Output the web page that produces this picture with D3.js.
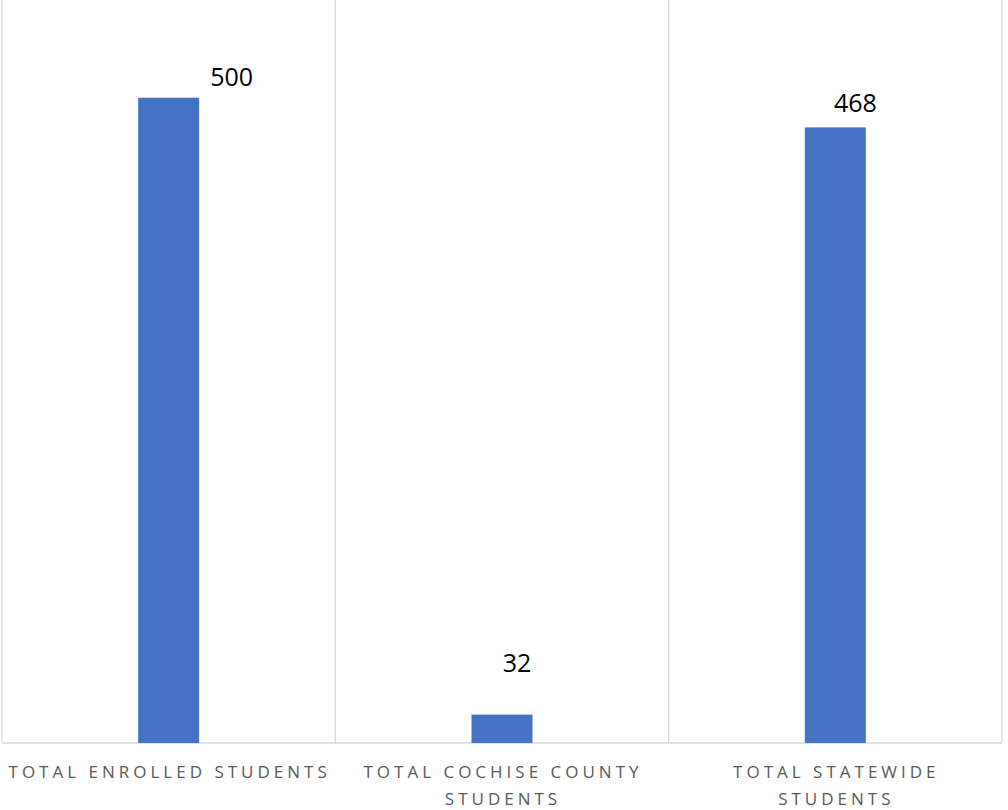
<!DOCTYPE html>
<html>
<head>
<meta charset="utf-8">
<script src="https://cdn.jsdelivr.net/npm/d3@7"></script>
<style>
  html, body { margin: 0; padding: 0; background: #fff; }
  svg { display: block; }
</style>
</head>
<body>
<svg id="chart" width="1008" height="810"></svg>
<script>
// ---- data ----
const categories = ["TOTAL ENROLLED STUDENTS", "TOTAL COCHISE COUNTY STUDENTS", "TOTAL STATEWIDE STUDENTS"];
// bar heights as drawn in the picture (axis units)
const barValues = [500, 22, 477];
// data label texts shown above the bars
const labelValues = ["500", "32", "468"];
// y axis domain
const yDomain = [0, 500];

// ---- layout (not data) ----
const W = 1008, H = 810;
const plot = { left: 2, right: 1002, top: 0, bottom: 743 };
const yTopPx = 97.7;
const labelNudge = [[63, -12], [15, -43], [20, -15]]; // dx, dy of data labels relative to bar top-center

const svg = d3.select("#chart");

const x = d3.scaleBand().domain(categories).range([plot.left, plot.right]).paddingInner(0).paddingOuter(0);
const y = d3.scaleLinear().domain(yDomain).range([plot.bottom, yTopPx]);

const grid = "#d9d9d9";
// vertical gridlines at category boundaries
const bounds = categories.map(c => x(c)).concat([plot.right]);
svg.append("g").selectAll("line").data(bounds).join("line")
  .attr("x1", d => d).attr("x2", d => d)
  .attr("y1", plot.top).attr("y2", plot.bottom)
  .attr("stroke", grid).attr("stroke-width", 1.3);

// baseline
svg.append("line")
  .attr("x1", plot.left).attr("x2", plot.right)
  .attr("y1", plot.bottom).attr("y2", plot.bottom)
  .attr("stroke", grid).attr("stroke-width", 1.3);

// bars
const barW = 61;
svg.append("g").selectAll("rect").data(categories).join("rect")
  .attr("x", c => x(c) + x.bandwidth() / 2 - barW / 2)
  .attr("width", barW)
  .attr("y", (c, i) => y(barValues[i]))
  .attr("height", (c, i) => plot.bottom - y(barValues[i]))
  .attr("fill", "#4472C4");

// data labels
svg.append("g").selectAll("text").data(categories).join("text")
  .attr("x", (c, i) => x(c) + x.bandwidth() / 2 + labelNudge[i][0])
  .attr("y", (c, i) => y(barValues[i]) + labelNudge[i][1])
  .attr("text-anchor", "middle")
  .attr("font-family", "'Open Sans', 'DejaVu Sans', sans-serif")
  .attr("font-size", 25)
  .attr("fill", "#000")
  .text((c, i) => labelValues[i]);

// category labels with wrapping
const maxW = 328;
const catG = svg.append("g")
  .attr("font-family", "'Open Sans', 'DejaVu Sans', sans-serif")
  .attr("font-size", 17)
  .attr("letter-spacing", "4px")
  .attr("fill", "#595959");

categories.forEach(c => {
  const cx = x(c) + x.bandwidth() / 2;
  const words = c.split(" ");
  const lines = [];
  let cur = [];
  const t = catG.append("text").attr("text-anchor", "middle");
  const meas = catG.append("text").attr("visibility", "hidden");
  words.forEach(w => {
    const test = cur.concat([w]).join(" ");
    meas.text(test);
    if (meas.node().getComputedTextLength() > maxW && cur.length) {
      lines.push(cur.join(" "));
      cur = [w];
    } else {
      cur.push(w);
    }
  });
  if (cur.length) lines.push(cur.join(" "));
  meas.remove();
  lines.forEach((ln, k) => {
    t.append("tspan").attr("x", cx + 1).attr("y", 778 + k * 27).text(ln);
  });
});
</script>
</body>
</html>
